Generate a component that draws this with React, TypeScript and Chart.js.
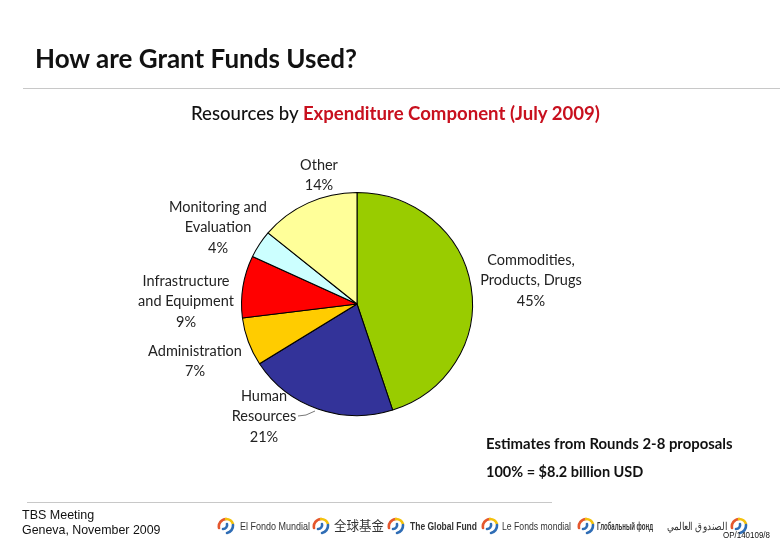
import { useEffect, useRef } from "react";
import { Chart, registerables } from "chart.js";

Chart.register(...registerables);

const categories = [
  "Commodities, Products, Drugs",
  "Human Resources",
  "Administration",
  "Infrastructure and Equipment",
  "Monitoring and Evaluation",
  "Other",
];
const shares = [45, 21, 7, 9, 4, 14];
const sliceColors = ["#99CC00", "#333399", "#FFCC00", "#FF0000", "#CCFFFF", "#FFFF99"];

// how each category label wraps on the slide, and where its block sits
const labelLines = [
  ["Commodities,", "Products, Drugs", "45%"],
  ["Human", "Resources", "21%"],
  ["Administration", "7%"],
  ["Infrastructure", "and Equipment", "9%"],
  ["Monitoring and", "Evaluation", "4%"],
  ["Other", "14%"],
];
const labelAnchors = [
  [531, 260],
  [264, 396],
  [195, 351],
  [186, 281],
  [218, 207],
  [319, 165],
];

const footerNames = [
  { text: "El Fondo Mundial", left: 240, width: 70 },
  { text: "全球基金", left: 334, width: 50 },
  { text: "The Global Fund", left: 410, width: 67 },
  { text: "Le Fonds mondial", left: 502, width: 69 },
  { text: "Глобальный фонд", left: 597, width: 56 },
  { text: "الصندوق العالمي", left: 667, width: 60 },
];
const logoLefts = [217, 312, 387, 481, 577, 730];

// the pie on the slide is a little wider than tall
const pieStretch = 116 / 112;

const stretchPie = {
  id: "stretchPie",
  beforeDatasetsDraw(chart: Chart) {
    const ctx = chart.ctx;
    const cx = (chart.chartArea.left + chart.chartArea.right) / 2;
    ctx.save();
    ctx.translate(cx, 0);
    ctx.scale(pieStretch, 1);
    ctx.translate(-cx, 0);
  },
  afterDatasetsDraw(chart: Chart) {
    chart.ctx.restore();
  },
};

const slideLabels = {
  id: "slideLabels",
  afterDraw(chart: Chart) {
    const ctx = chart.ctx;
    ctx.save();
    ctx.font = "14.5px Lato";
    ctx.fillStyle = "#222222";
    ctx.textAlign = "center";
    ctx.textBaseline = "middle";
    labelLines.forEach((lines, i) => {
      const [x, y] = labelAnchors[i];
      lines.forEach((line, j) => ctx.fillText(line, x, y + j * 20.5));
    });
    // leader line from "Resources" to its slice
    ctx.strokeStyle = "#777777";
    ctx.lineWidth = 1;
    ctx.beginPath();
    ctx.moveTo(298, 416);
    ctx.lineTo(306, 415);
    ctx.lineTo(315, 411);
    ctx.stroke();
    ctx.restore();
  },
};

function Logo({ left }: { left: number }) {
  return (
    <svg
      width="18"
      height="18"
      viewBox="0 0 18 18"
      style={{ position: "absolute", left, top: 517 }}
      fill="none"
      strokeWidth="2.6"
      strokeLinecap="round"
    >
      <path d="M2 11 A7.5 7.5 0 0 1 9 2" stroke="#e4572e" />
      <path d="M9 2 A7.5 7.5 0 0 1 16 7" stroke="#f4c20d" />
      <path d="M16 8 A7.5 7.5 0 0 1 10 16" stroke="#2f6db5" />
      <path d="M6 12 A4 4 0 0 0 10 7" stroke="#2f6db5" />
    </svg>
  );
}

const slideText = (
  left: number,
  top: number,
  text: string,
  extra: React.CSSProperties = {}
) => (
  <div
    style={{
      position: "absolute",
      left,
      top,
      whiteSpace: "nowrap",
      fontFamily: "Lato",
      color: "#111111",
      lineHeight: 1,
      ...extra,
    }}
  >
    {text}
  </div>
);

export default function App() {
  const canvasRef = useRef<HTMLCanvasElement>(null);

  useEffect(() => {
    if (!canvasRef.current) return;
    const chart = new Chart(canvasRef.current, {
      type: "pie",
      data: {
        labels: categories,
        datasets: [
          {
            data: shares,
            backgroundColor: sliceColors,
            borderColor: "#000000",
            borderWidth: 1,
          },
        ],
      },
      options: {
        responsive: false,
        animation: false,
        layout: { padding: { left: 245, right: 311, top: 192, bottom: 124 } },
        plugins: {
          legend: { display: false },
          tooltip: { enabled: false },
        },
      },
      plugins: [stretchPie, slideLabels],
    });
    return () => chart.destroy();
  }, []);

  return (
    <div
      style={{
        position: "fixed",
        left: 0,
        top: 0,
        width: 780,
        height: 540,
        background: "#ffffff",
        overflow: "hidden",
      }}
    >
      <canvas ref={canvasRef} width={780} height={540} style={{ position: "absolute", left: 0, top: 0 }} />

      {slideText(35, 45, "How are Grant Funds Used?", { fontSize: 26, fontWeight: 700 })}
      <div style={{ position: "absolute", left: 23, top: 88, width: 757, height: 1, background: "#c8c8c8" }} />

      <div
        style={{
          position: "absolute",
          left: 191,
          top: 104,
          whiteSpace: "nowrap",
          fontFamily: "Lato",
          fontSize: 18.6,
          fontWeight: 500,
          lineHeight: 1,
          color: "#111111",
        }}
      >
        Resources by <span style={{ color: "#c8101e", fontWeight: 700 }}>Expenditure Component (July 2009)</span>
      </div>

      {slideText(486, 436, "Estimates from Rounds 2-8 proposals", { fontSize: 14.9, fontWeight: 700 })}
      {slideText(486, 465, "100% = $8.2 billion USD", { fontSize: 14.5, fontWeight: 700 })}

      <div style={{ position: "absolute", left: 27, top: 502, width: 525, height: 1, background: "#c8c8c8" }} />
      {slideText(22, 509, "TBS Meeting", { fontFamily: "Liberation Sans", fontSize: 12.5 })}
      {slideText(22, 524, "Geneva, November 2009", { fontFamily: "Liberation Sans", fontSize: 12.4 })}

      {logoLefts.map((left) => (
        <Logo key={left} left={left} />
      ))}
      <svg width="780" height="540" style={{ position: "absolute", left: 0, top: 0 }}>
        {footerNames.map((n) => (
          <text
            key={n.text}
            x={n.left}
            y={530}
            textLength={n.width}
            lengthAdjust="spacingAndGlyphs"
            fontFamily={n.text === "全球基金" ? "Noto Sans CJK SC" : "Liberation Sans"}
            fontSize={n.text === "全球基金" ? 13 : 11}
            fontWeight={n.text === "Глобальный фонд" || n.text === "The Global Fund" ? 700 : 400}
            fill="#333333"
          >
            {n.text}
          </text>
        ))}
        <text
          x={723}
          y={538}
          textLength={47}
          lengthAdjust="spacingAndGlyphs"
          fontFamily="Liberation Sans"
          fontSize={9.5}
          fill="#111111"
        >
          OP/140109/8
        </text>
      </svg>
    </div>
  );
}
